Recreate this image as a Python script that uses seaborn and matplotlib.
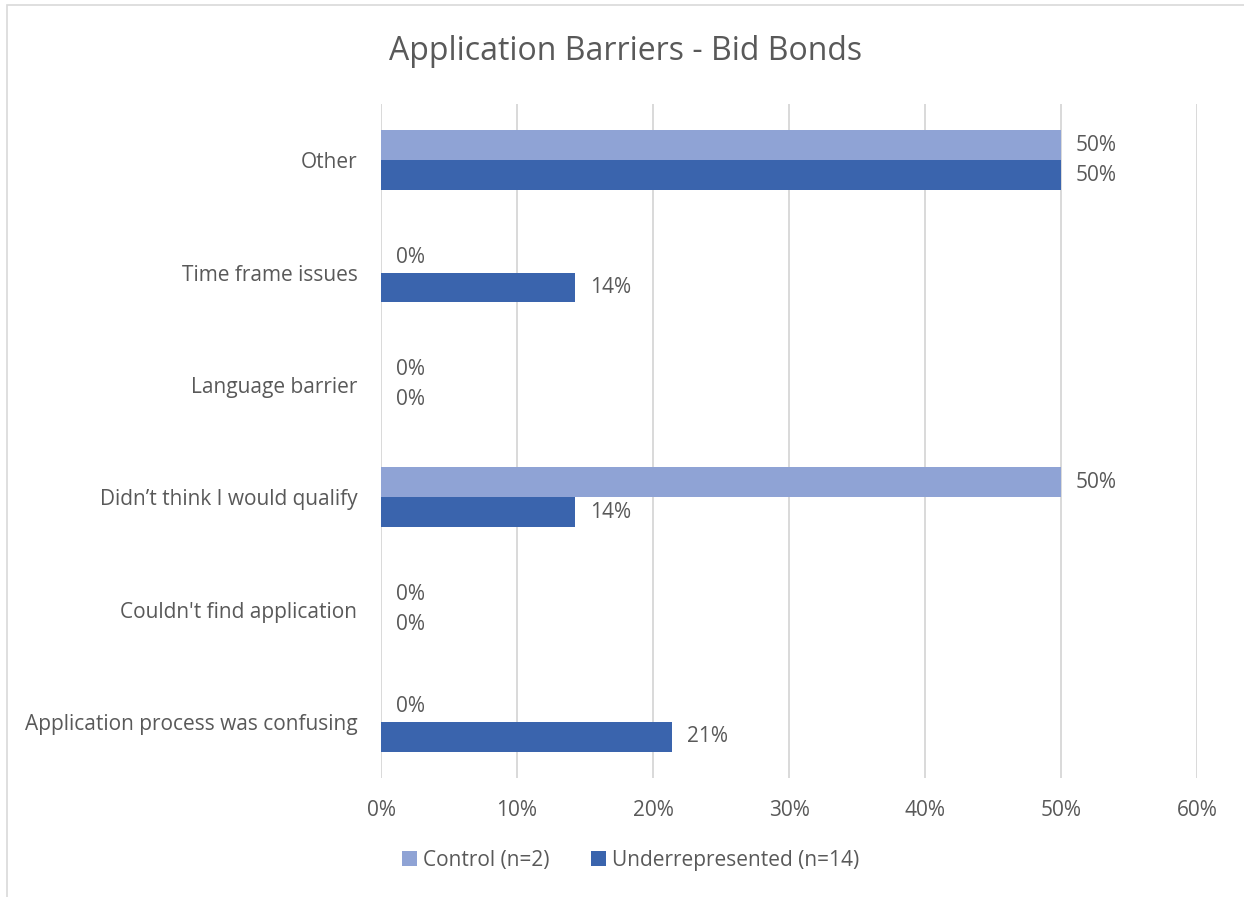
import matplotlib
matplotlib.use("Agg")
import matplotlib.pyplot as plt
import matplotlib.patches as mpatches
import seaborn as sns
import pandas as pd

categories = ["Other", "Time frame issues", "Language barrier",
              "Didn\u2019t think I would qualify", "Couldn't find application",
              "Application process was confusing"]
groups = ["Control (n=2)", "Underrepresented (n=14)"]
control = [50, 0, 0, 50, 0, 0]
underrepresented = [50, 14.3, 0, 14.3, 0, 21.4]
xticks = [0, 10, 20, 30, 40, 50, 60]
title = "Application Barriers - Bid Bonds"

colors = ["#8FA3D5", "#3A64AD"]
text_color = "#595959"
fs = 15

sns.set_theme(style="white")
plt.rcParams["font.family"] = ["Open Sans", "DejaVu Sans"]

df = pd.DataFrame({
    "category": categories * 2,
    "group": [groups[0]] * len(categories) + [groups[1]] * len(categories),
    "value": control + underrepresented,
})

fig = plt.figure(figsize=(12.44, 8.97), dpi=100)
ax = fig.add_axes([381 / 1244, 1 - 778 / 897, (1197 - 381) / 1244, (778 - 104) / 897])

sns.barplot(data=df, y="category", x="value", hue="group", order=categories,
            hue_order=groups, palette=colors, orient="h", width=0.534,
            saturation=1, linewidth=0, ax=ax, legend=False)

for cont in ax.containers:
    ax.bar_label(cont, labels=[f"{v:.0f}%" for v in cont.datavalues],
                 padding=10.5, fontsize=fs, color=text_color)

ax.set_xlim(0, 60)
ax.set_xticks(xticks)
ax.set_xticklabels([f"{t}%" for t in xticks])
ax.set_xlabel("")
ax.set_ylabel("")
ax.grid(axis="x", color="#D9D9D9", linewidth=1.4)
ax.set_axisbelow(True)
for s in ax.spines.values():
    s.set_visible(False)
ax.tick_params(axis="y", length=0, pad=17, labelsize=fs, labelcolor=text_color)
ax.tick_params(axis="x", length=0, pad=16, labelsize=fs, labelcolor=text_color)

fig.text(626 / 1244, 1 - 51 / 897, title, ha="center", va="center",
         fontsize=23, color=text_color)

handles = [mpatches.Patch(facecolor=c, edgecolor="none") for c in colors]
fig.legend(handles, groups, loc="center", bbox_to_anchor=(631 / 1244, 1 - 860 / 897),
           ncol=2, frameon=False, handlelength=0.7, handleheight=0.7,
           handletextpad=0.3, columnspacing=2.0, fontsize=fs,
           labelcolor=text_color)

border = mpatches.Rectangle((7 / 1244, -0.1), 2, 1 - 5 / 897 + 0.1,
                            transform=fig.transFigure, fill=False,
                            edgecolor="#D9D9D9", linewidth=1.2)
fig.patches.append(border)

fig.savefig("out.png", dpi=100, facecolor="white")
